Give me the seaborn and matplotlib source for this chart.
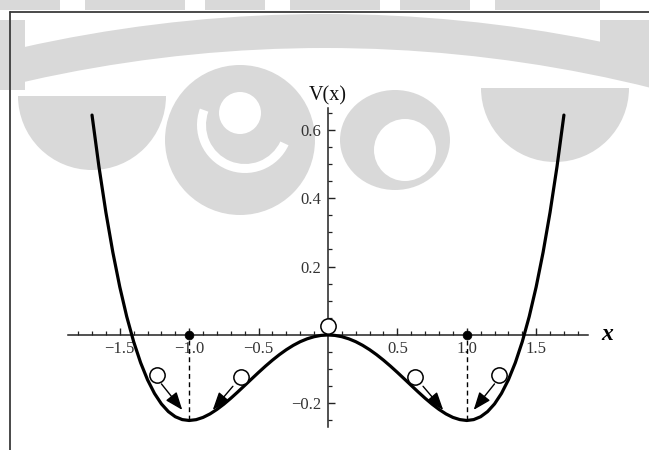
import matplotlib
matplotlib.use("Agg")
import matplotlib.pyplot as plt
from matplotlib.patches import Annulus, Ellipse, Circle, Rectangle, Wedge
from matplotlib.lines import Line2D
import seaborn as sns
import pandas as pd

# Double-well potential V(x), sampled every 0.05
x_vals = [-1.70, -1.65, -1.60, -1.55, -1.50, -1.45, -1.40, -1.35, -1.30, -1.25,
          -1.20, -1.15, -1.10, -1.05, -1.00, -0.95, -0.90, -0.85, -0.80, -0.75,
          -0.70, -0.65, -0.60, -0.55, -0.50, -0.45, -0.40, -0.35, -0.30, -0.25,
          -0.20, -0.15, -0.10, -0.05, 0.00, 0.05, 0.10, 0.15, 0.20, 0.25,
          0.30, 0.35, 0.40, 0.45, 0.50, 0.55, 0.60, 0.65, 0.70, 0.75,
          0.80, 0.85, 0.90, 0.95, 1.00, 1.05, 1.10, 1.15, 1.20, 1.25,
          1.30, 1.35, 1.40, 1.45, 1.50, 1.55, 1.60, 1.65, 1.70]
v_vals = [0.6430, 0.4918, 0.3584, 0.2418, 0.1406, 0.0539, -0.0196, -0.0809, -0.1310, -0.1709,
          -0.2016, -0.2240, -0.2390, -0.2474, -0.2500, -0.2476, -0.2410, -0.2308, -0.2176, -0.2022,
          -0.1850, -0.1666, -0.1476, -0.1284, -0.1094, -0.0910, -0.0736, -0.0575, -0.0430, -0.0303,
          -0.0196, -0.0112, -0.0050, -0.0012, 0.0000, -0.0012, -0.0050, -0.0112, -0.0196, -0.0303,
          -0.0430, -0.0575, -0.0736, -0.0910, -0.1094, -0.1284, -0.1476, -0.1666, -0.1850, -0.2022,
          -0.2176, -0.2308, -0.2410, -0.2474, -0.2500, -0.2474, -0.2390, -0.2240, -0.2016, -0.1709,
          -0.1310, -0.0809, -0.0196, 0.0539, 0.1406, 0.2418, 0.3584, 0.4918, 0.6430]

# Minima of the well and the unstable maximum
min_x = [-1.0, 1.0]
min_v = [-0.25, -0.25]
top_ball_x = [0.0]
top_ball_y = [0.026]

# Balls rolling down towards the minima
ball_x = [-1.23, -0.63, 0.63, 1.23]
ball_y = [-0.117, -0.122, -0.122, -0.117]
arrow_start_x = [-1.20, -0.685, 0.685, 1.20]
arrow_start_y = [-0.143, -0.150, -0.150, -0.143]
arrow_end_x = [-1.05, -0.83, 0.83, 1.05]
arrow_end_y = [-0.219, -0.219, -0.219, -0.219]

x_major = [-1.5, -1.0, -0.5, 0.5, 1.0, 1.5]
x_labels = ["\u22121.5", "\u22121.0", "\u22120.5", "0.5", "1.0", "1.5"]
x_minor = [-1.8, -1.7, -1.6, -1.4, -1.3, -1.2, -1.1, -0.9, -0.8, -0.7, -0.6,
           -0.4, -0.3, -0.2, -0.1, 0.1, 0.2, 0.3, 0.4, 0.6, 0.7, 0.8, 0.9,
           1.1, 1.2, 1.3, 1.4, 1.6, 1.7, 1.8]
y_major = [-0.2, 0.2, 0.4, 0.6]
y_labels = ["\u22120.2", "0.2", "0.4", "0.6"]
y_minor = [-0.25, -0.15, -0.1, -0.05, 0.05, 0.1, 0.15, 0.25, 0.3, 0.35,
           0.45, 0.5, 0.55, 0.65]

sns.set_theme(style="white")
plt.rcParams["font.family"] = ["Liberation Serif", "DejaVu Serif"]

W, H = 649, 450
fig = plt.figure(figsize=(W / 100, H / 100), dpi=100)
fig.patch.set_facecolor("white")

# faint grey emblem in the background (pixel coordinates, y downwards)
bg = fig.add_axes([0, 0, 1, 1], zorder=0)
bg.set_xlim(0, W)
bg.set_ylim(H, 0)
bg.axis("off")
wm = "#d9d9d9"
for x0, x1 in [(0, 60), (85, 185), (205, 265), (290, 380), (400, 470), (495, 600)]:
    bg.add_patch(Rectangle((x0, 0), x1 - x0, 10, color=wm, lw=0))
bg.add_patch(Annulus((325, 1400), 1386, 34, color=wm, lw=0))
bg.add_patch(Rectangle((0, 20), 25, 70, color=wm, lw=0))
bg.add_patch(Rectangle((600, 20), 49, 50, color=wm, lw=0))
# side wings
bg.add_patch(Wedge((92, 96), 74, 0, 180, color=wm, lw=0))
bg.add_patch(Wedge((555, 88), 74, 0, 180, color=wm, lw=0))
# central drop with its hollow
bg.add_patch(Ellipse((240, 140), 150, 150, color=wm, lw=0))
bg.add_patch(Circle((240, 113), 21, color="white", lw=0))
bg.add_patch(Wedge((245, 125), 48, 25, 200, width=9, color="white", lw=0))
bg.add_patch(Ellipse((395, 140), 110, 100, color=wm, lw=0))
bg.add_patch(Ellipse((405, 150), 62, 62, color="white", lw=0))

# border lines at the top and on the left
fig.add_artist(Line2D([9.5 / W, 9.5 / W], [0, 1 - 12 / H], color="#3a3a3a", lw=1.3))
fig.add_artist(Line2D([9.5 / W, 1], [1 - 12 / H, 1 - 12 / H], color="#3a3a3a", lw=1.3))

ax = fig.add_axes([0, 0, 1, 1], zorder=1)
ax.patch.set_alpha(0)
ax.set_xlim(-2.363, 2.313)
ax.set_ylim(-0.3363, 0.9795)

df = pd.DataFrame({"x": x_vals, "V": v_vals})
sns.lineplot(data=df, x="x", y="V", ax=ax, color="black", lw=2.3, sort=False,
             estimator=None, zorder=4)

# dashed drop lines at the minima
ax.vlines(min_x, min_v, 0, colors="black", linestyles=(0, (3.5, 2.5)), lw=1.0, zorder=3)
sns.scatterplot(x=min_x, y=[0, 0], ax=ax, color="black", s=40, edgecolor="black",
                zorder=5, legend=False)

# balls
ax.plot(top_ball_x, top_ball_y, "o", ms=11, mfc="white", mec="black", mew=1.1, zorder=6)
ax.plot(ball_x, ball_y, "o", ms=11, mfc="white", mec="black", mew=1.1, zorder=6)
for sx, sy, ex, ey in zip(arrow_start_x, arrow_start_y, arrow_end_x, arrow_end_y):
    ax.annotate("", xy=(ex, ey), xytext=(sx, sy),
                arrowprops=dict(arrowstyle="-|>,head_length=0.9,head_width=0.35",
                                color="black", lw=1.0, shrinkA=0, shrinkB=0,
                                mutation_scale=12), zorder=6)

# axes through the origin
for side in ["top", "right"]:
    ax.spines[side].set_visible(False)
ax.spines["left"].set_position(("data", 0))
ax.spines["bottom"].set_position(("data", 0))
ax.spines["left"].set_bounds(-0.27, 0.665)
ax.spines["bottom"].set_bounds(-1.875, 1.875)
for s in ["left", "bottom"]:
    ax.spines[s].set_color("#222222")
    ax.spines[s].set_linewidth(1.1)
    ax.spines[s].set_zorder(2)

ax.set_xticks(x_major)
ax.set_xticklabels(x_labels)
ax.set_xticks(x_minor, minor=True)
ax.set_yticks(y_major)
ax.set_yticklabels(y_labels)
ax.set_yticks(y_minor, minor=True)
ax.tick_params(which="both", direction="in", colors="#222222", labelcolor="#333333",
               labelsize=12, bottom=True, left=True)
ax.tick_params(which="major", length=5, width=1.0)
ax.tick_params(which="minor", length=3, width=0.9)
ax.tick_params(axis="x", pad=4)
ax.tick_params(axis="y", pad=5)
ax.set_xlabel("")
ax.set_ylabel("")
ax.grid(False)

ax.text(0, 0.672, "V(x)", ha="center", va="bottom", fontsize=14.5, color="#111111")
ax.text(2.01, 0.0, "x", ha="center", va="center", fontsize=17, fontweight="bold",
        fontstyle="italic", color="black")

fig.savefig("out.png", dpi=100, facecolor="white")
